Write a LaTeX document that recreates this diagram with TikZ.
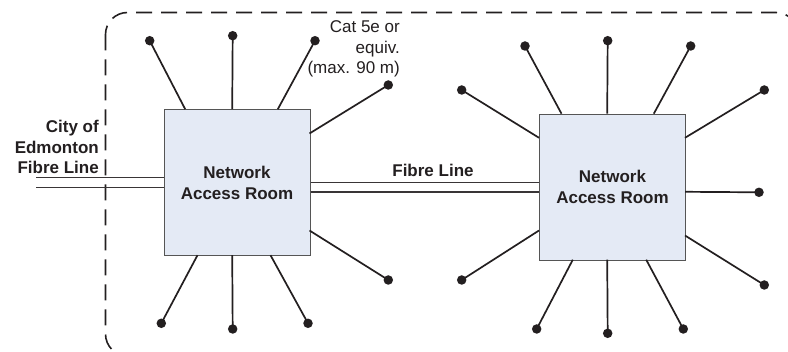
\documentclass[tikz,border=0pt]{standalone}
\usepackage{fontspec}
\setmainfont{Liberation Sans}
\usetikzlibrary{calc}
\definecolor{ink}{HTML}{231F20}
\definecolor{roomfill}{HTML}{E4EAF5}
\definecolor{roomedge}{HTML}{555555}

\begin{document}
\begin{tikzpicture}[x=1pt,y=-1pt,
  room/.style={draw=roomedge, line width=1pt, fill=roomfill,
    minimum width=146pt, minimum height=146pt, inner sep=0pt,
    font=\fontsize{17}{20.7}\selectfont\bfseries, align=center, text=ink},
  outlet/.style={circle, fill=ink, inner sep=0pt, minimum size=9.5pt},
  cable/.style={draw=ink, line width=1.7pt},
  fibre/.style={draw=ink!90, line width=1.6pt},
  lbl/.style={font=\fontsize{17}{20.7}\selectfont, text=ink, inner sep=0pt},
  boundary/.style={draw=ink, line width=1.6pt, dash pattern=on 16pt off 9pt, rounded corners=22pt}
]
\useasboundingbox (0,0) rectangle (788,352);

% building boundary (runs past the right and bottom edges)
\begin{scope}
  \clip (0,0) rectangle (788,352);
  \draw[boundary] (105.5,12.5) rectangle (798,356);
\end{scope}

% network access rooms
\node[room] (L) at (237,182.7) {Network\\Access Room};
\node[room] (R) at (612.5,187.2) {Network\\Access Room};

% fibre lines
\coordinate (F1) at (36,177.7);
\coordinate (F2) at (36,187.7);
\draw[fibre] (F1) -- (F1 -| L.west);
\draw[fibre] (F2) -- (F2 -| L.west);
\coordinate (B1) at (L.east);
\coordinate (B2) at ($(L.east)+(0,9.6)$);
\draw[fibre] (B1) -- (B1 -| R.west);
\draw[fibre] (B2) -- (B2 -| R.west);

% labels (base anchor of a multi-line node = baseline of its last line)
\node[lbl, font=\fontsize{17}{20.7}\selectfont\bfseries, align=right, anchor=base east] (city) at (99,174) {City of\\Edmonton\\Fibre Line};
\node[lbl, align=right, anchor=base east] (cat) at (400,74) {Cat 5e or\\equiv.\\(max. 90 m)};
\node[lbl, font=\fontsize{17}{20.7}\selectfont\bfseries, anchor=base] (fl) at (433,176.7) {Fibre Line};

% outlets of the left room
\foreach \ax/\ay/\dx/\dy [count=\i] in {
    21.7/0/149.7/40.7,
    68.7/0/232.7/35.7,
    114.3/0/315/40.7,
    146/24.3/388.3/85,
    146/121.3/388.3/280,
    34/146/161.3/323.3,
    68.7/146/232.7/329,
    107/146/308/323.3}{
  \coordinate (La\i) at ($(L.north west)+(\ax,\ay)$);
  \node[outlet] (Lo\i) at (\dx,\dy) {};
  \draw[cable] (La\i) -- (Lo\i.center);
}

% outlets of the right room
\foreach \ax/\ay/\dx/\dy [count=\i] in {
    22.5/0/525/46,
    68.2/0/607.7/40.7,
    114.8/0/690.7/46,
    0/24.1/461.7/90,
    146/24.1/764.3/90,
    146/78.1/759/192.3,
    0/116.8/461.7/280,
    146/121.8/764.3/285,
    33.8/146/536.7/329,
    68.2/146/607.7/333.3,
    107.2/146/683.3/329}{
  \coordinate (Ra\i) at ($(R.north west)+(\ax,\ay)$);
  \node[outlet] (Ro\i) at (\dx,\dy) {};
  \draw[cable] (Ra\i) -- (Ro\i.center);
}
\end{tikzpicture}
\end{document}
